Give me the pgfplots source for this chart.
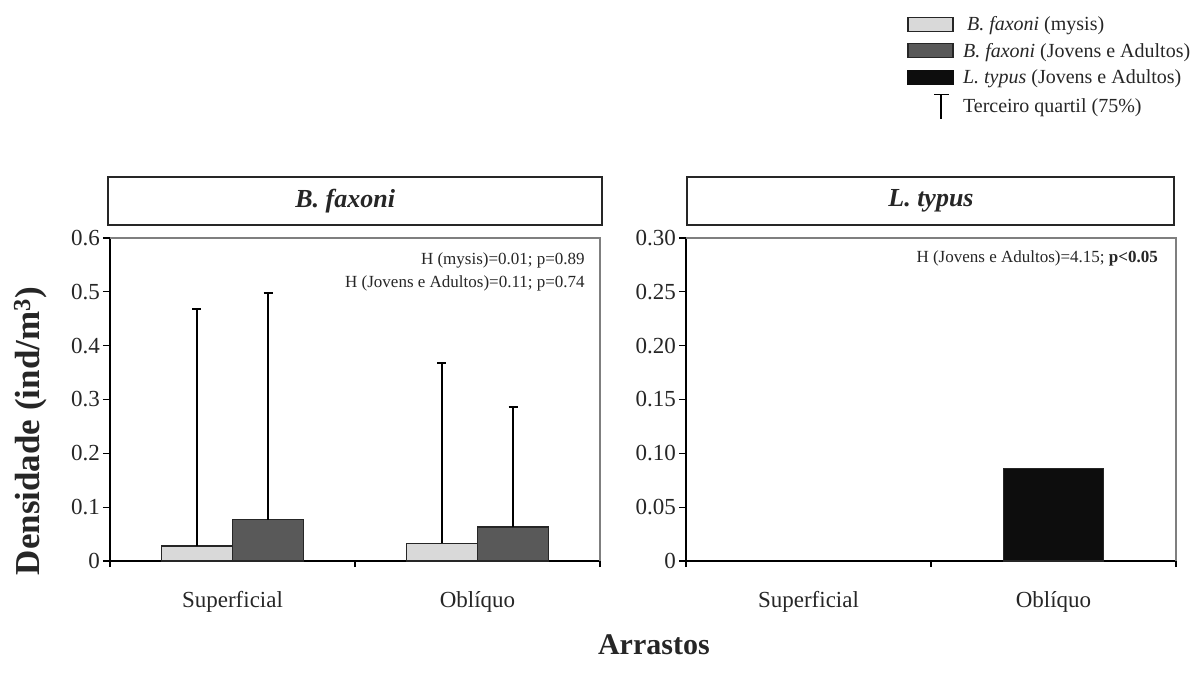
\documentclass[border=0pt]{standalone}
\usepackage{fontspec}
\setmainfont{Liberation Serif}
\usepackage{pgfplots}
\pgfplotsset{compat=1.18}
\definecolor{lightbar}{HTML}{D9D9D9}
\definecolor{darkbar}{HTML}{595959}
\definecolor{blackbar}{HTML}{0D0D0D}
\definecolor{edge}{HTML}{262626}
\definecolor{txt}{HTML}{262626}
\definecolor{framec}{HTML}{7F7F7F}
\pgfplotsset{
  panel/.style={
    width=490pt, height=323pt, scale only axis,
    xmin=-0.5, xmax=1.5, ymin=0,
    clip=false,
    axis x line*=bottom, axis y line*=left,
    axis line style={black, line width=1.3pt, -},
    xtick={0,1}, xticklabels={Superficial,Oblíquo},
    major x tick style={draw=none},
    minor xtick={-0.5,0.5,1.5},
    minor x tick style={black, line width=1.3pt},
    minor tick length=6pt,
    major tick length=7pt,
    y tick style={black, line width=1.3pt},
    tick align=outside,
    ticklabel style={font=\fontsize{23}{26}\selectfont, text=txt},
    xticklabel style={yshift=-20pt},
    yticklabel style={inner sep=3pt},
  },
  whisk/.style={
    error bars/.cd, y dir=plus, y explicit,
    error mark=|,
    error bar style={black, line width=1.8pt},
    error mark options={black, mark size=4.5pt, line width=1.8pt},
  },
}
\begin{document}
\begin{tikzpicture}
\useasboundingbox (0,0) rectangle (1195pt,673pt);
% ---------------- left panel ----------------
\begin{axis}[panel, at={(110pt,112pt)}, anchor=south west,
  ymax=0.6,
  ytick={0,0.1,0.2,0.3,0.4,0.5,0.6},
  yticklabels={0,0.1,0.2,0.3,0.4,0.5,0.6},
  legend style={at={(axis description cs:1.627,1.693)}, anchor=north west,
    draw=none, fill=none, inner sep=0pt, row sep=7pt,
    font=\fontsize{20}{22}\selectfont, text=txt,
    nodes={inner sep=2pt}},
  legend cell align=left,
]
\addlegendimage{legend image code/.code={\draw[fill=lightbar,draw=edge,line width=1.2pt] (0pt,-7pt) rectangle (45pt,7pt); \path[draw=none] (53pt,0pt);}}
\addlegendentry{\hspace{4pt}\textit{B. faxoni} (mysis)}
\addlegendimage{legend image code/.code={\draw[fill=darkbar,draw=edge,line width=1.2pt] (0pt,-7pt) rectangle (45pt,7pt); \path[draw=none] (53pt,0pt);}}
\addlegendentry{\textit{B. faxoni} (Jovens e Adultos)}
\addlegendimage{legend image code/.code={\draw[fill=blackbar,draw=blackbar,line width=1.2pt] (0pt,-7pt) rectangle (45pt,7pt); \path[draw=none] (53pt,0pt);}}
\addlegendentry{\textit{L. typus} (Jovens e Adultos)}
\addlegendimage{legend image code/.code={\draw[black,line width=1.2pt] (33pt,-12pt) -- (33pt,12pt) (26pt,12pt) -- (41pt,12pt); \path[draw=none] (0pt,0pt) (49pt,0pt);}}
\addlegendentry{Terceiro quartil (75\%)}

\addplot[ybar, bar width=71pt, bar shift=0pt, fill=lightbar, draw=edge, line width=1.2pt, forget plot, whisk]
  coordinates {(-0.145,0.028) +- (0,0.440) (0.855,0.033) +- (0,0.335)};
\addplot[ybar, bar width=71pt, bar shift=0pt, fill=darkbar, draw=edge, line width=1.2pt, forget plot, whisk]
  coordinates {(0.145,0.077) +- (0,0.421) (1.145,0.063) +- (0,0.223)};

\draw[framec, line width=1.3pt] (rel axis cs:0,1) -- (rel axis cs:1,1) -- (rel axis cs:1,0);
\draw[edge, line width=1.3pt] (rel axis cs:-0.004,1.040) rectangle (rel axis cs:1.004,1.189);
\node[font=\fontsize{26}{30}\selectfont\bfseries\itshape, text=txt] at (rel axis cs:0.48,1.1145) {B. faxoni};
\node[anchor=east, font=\fontsize{17}{20}\selectfont, text=txt] at (rel axis cs:0.976,0.932) {H (mysis)=0.01; p=0.89};
\node[anchor=east, font=\fontsize{17}{20}\selectfont, text=txt] at (rel axis cs:0.976,0.858) {H (Jovens e Adultos)=0.11; p=0.74};
\node[rotate=90, font=\fontsize{35}{40}\selectfont\bfseries, text=txt] at (rel axis cs:-0.163,0.402) {Densidade (ind/m\textsuperscript{3})};
\node[font=\fontsize{30}{34}\selectfont\bfseries, text=txt] at (rel axis cs:1.11,-0.26) {Arrastos};
\end{axis}
% ---------------- right panel ----------------
\begin{axis}[panel, at={(686pt,112pt)}, anchor=south west,
  ymax=0.3,
  ytick={0,0.05,0.1,0.15,0.2,0.25,0.3},
  yticklabels={0,0.05,0.10,0.15,0.20,0.25,0.30},
]
\addplot[ybar, bar width=100pt, bar shift=0pt, fill=blackbar, draw=edge, line width=1.2pt]
  coordinates {(1,0.086)};
\draw[framec, line width=1.3pt] (rel axis cs:0,1) -- (rel axis cs:1,1) -- (rel axis cs:1,0);
\draw[edge, line width=1.3pt] (rel axis cs:0.002,1.040) rectangle (rel axis cs:0.996,1.189);
\node[font=\fontsize{26}{30}\selectfont\bfseries\itshape, text=txt] at (rel axis cs:0.5,1.1145) {L. typus};
\node[anchor=east, font=\fontsize{17}{20}\selectfont, text=txt] at (rel axis cs:0.970,0.938) {H (Jovens e Adultos)=4.15; \textbf{p<0.05}};
\end{axis}
\end{tikzpicture}
\end{document}
